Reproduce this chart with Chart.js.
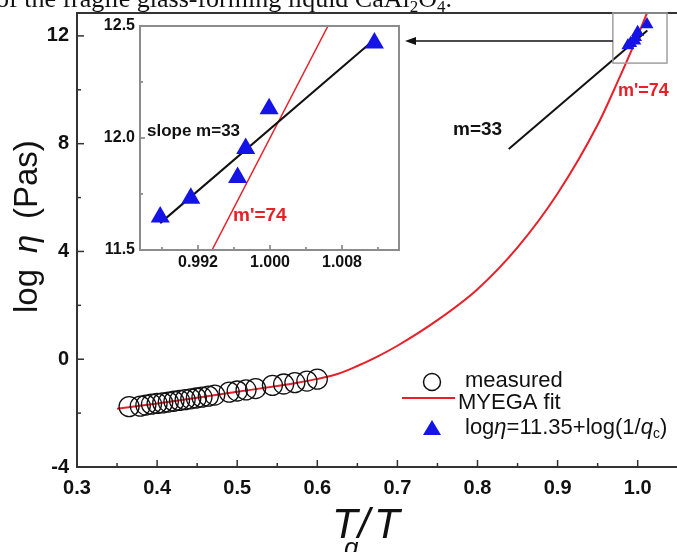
<!DOCTYPE html>
<html lang="en">
<head>
  <meta charset="utf-8">
  <title>log viscosity vs Tg/T</title>
  <script type="text/javascript" src="https://cdn.jsdelivr.net/npm/chart.js"></script>
  <style type="text/css">
    html, body { margin:0; padding:0; background:#fff; overflow:hidden; }
    #wrap { position:relative; width:677px; height:552px; overflow:hidden; }
    #chart { position:absolute; left:0; top:0; }
    #inset { position:absolute; left:95px; top:15px; }
  </style>
</head>
<body>
  <div id="wrap">
    <canvas id="chart" width="690" height="552"></canvas>
    <canvas id="inset" width="315" height="270"></canvas>
  </div>

  <script type="text/javascript">
    // measured viscosity (circles)
    const measuredX = [0.365, 0.379, 0.386, 0.393, 0.400, 0.407, 0.414, 0.421, 0.428, 0.435, 0.442, 0.449,
                       0.456, 0.464, 0.472, 0.490, 0.500, 0.511, 0.523, 0.544, 0.558, 0.572, 0.587, 0.600];
    const measuredY = [-1.76, -1.74, -1.70, -1.67, -1.64, -1.62, -1.59, -1.56, -1.53, -1.50, -1.47, -1.44,
                       -1.41, -1.37, -1.33, -1.22, -1.18, -1.14, -1.09, -0.97, -0.92, -0.87, -0.81, -0.74];
    // MYEGA fit (red curve)
    const fitX = [0.35, 0.40, 0.45, 0.50, 0.55, 0.575, 0.60, 0.625, 0.65, 0.675, 0.70, 0.75, 0.80, 0.85, 0.90, 0.95, 0.975, 1.00, 1.015];
    const fitY = [-1.84, -1.64, -1.43, -1.21, -0.99, -0.87, -0.73, -0.55, -0.25, 0.10, 0.50, 1.45, 2.60, 4.15, 6.15, 8.70, 10.30, 12.00, 13.10];
    // log eta = 11.35 + log(1/qc) (triangles)
    const qcX = [0.9878, 0.9912, 0.9964, 0.9973, 0.9999, 1.0116];
    const qcY = [11.647, 11.731, 11.824, 11.953, 12.131, 12.424];
    // slope lines
    const slopeX = [0.839, 1.012];
    const slopeY = [7.80, 12.20];
    const insetSlopeX = [0.9878, 1.0116];
    const insetSlopeY = [11.62, 12.44];
    const insetFitX = [0.99356, 1.00644];
    const insetFitY = [11.5, 12.5];
    // ticks
    const xTicks = [0.3, 0.4, 0.5, 0.6, 0.7, 0.8, 0.9, 1.0];
    const xMinor = [0.35, 0.45, 0.55, 0.65, 0.75, 0.85, 0.95];
    const yTicks = [-4, 0, 4, 8, 12];
    const yMinor = [-2, 2, 6, 10];
    const insetXTicks = [0.992, 1.000, 1.008];
    const insetXMinor = [0.988, 0.996, 1.004, 1.012];
    const insetYTicks = [11.5, 12.0, 12.5];
    const insetYMinor = [11.75, 12.25];

    const SANS = 'Arial, "Liberation Sans", sans-serif';
    const RED = '#e8202a', BLUE = '#1414e6', AXIS = '#333';
    const pts = (xs, ys) => xs.map((x, i) => ({ x, y: ys[i] }));
    const noPad = s => { s.paddingLeft = 0; s.paddingRight = 0; s.paddingTop = 0; s.paddingBottom = 0; };

    const inTicks = {
      id: 'inTicks',
      afterDatasetsDraw(chart, args, o) {
        const { ctx, chartArea: a, scales: { x, y } } = chart;
        ctx.save();
        ctx.strokeStyle = AXIS; ctx.lineWidth = o.w;
        const v = (px, len) => { ctx.beginPath(); ctx.moveTo(px, a.bottom); ctx.lineTo(px, a.bottom - len); ctx.stroke(); };
        const h = (py, len) => { ctx.beginPath(); ctx.moveTo(a.left, py); ctx.lineTo(a.left + len, py); ctx.stroke(); };
        o.xMajor.forEach(t => v(x.getPixelForValue(t), o.major));
        o.xMinor.forEach(t => v(x.getPixelForValue(t), o.minor));
        o.yMajor.forEach(t => h(y.getPixelForValue(t), o.major));
        o.yMinor.forEach(t => h(y.getPixelForValue(t), o.minor));
        ctx.restore();
      }
    };

    const decor = {
      id: 'decor',
      afterDraw(chart) {
        const { ctx, chartArea: a, scales: { x, y } } = chart;
        ctx.save();
        // top frame line
        ctx.strokeStyle = AXIS; ctx.lineWidth = 2;
        ctx.beginPath(); ctx.moveTo(a.left - 1, a.top); ctx.lineTo(a.right, a.top); ctx.stroke();

        // caption line cut at the top of the figure
        ctx.fillStyle = '#111'; ctx.textBaseline = 'alphabetic'; ctx.textAlign = 'left';
        let cx = -4;
        const seg = (t, font, dy) => { ctx.font = font; ctx.fillText(t, cx, 7 + (dy || 0)); cx += ctx.measureText(t).width; };
        seg('of the fragile glass-forming liquid CaAl', '26px "Liberation Serif", serif');
        seg('2', '17px "Liberation Serif", serif', 5);
        seg('O', '26px "Liberation Serif", serif');
        seg('4', '17px "Liberation Serif", serif', 5);
        seg('.', '26px "Liberation Serif", serif');

        // zoom box and arrow
        const bx0 = x.getPixelForValue(0.969), bx1 = x.getPixelForValue(1.0366);
        const by0 = y.getPixelForValue(12.85), by1 = y.getPixelForValue(10.99);
        ctx.strokeStyle = '#a0a0a0'; ctx.lineWidth = 1.5;
        ctx.strokeRect(bx0, by0, bx1 - bx0, by1 - by0);
        ctx.strokeStyle = '#111'; ctx.fillStyle = '#111'; ctx.lineWidth = 1.5;
        ctx.beginPath(); ctx.moveTo(bx0, 41); ctx.lineTo(414, 41); ctx.stroke();
        ctx.beginPath(); ctx.moveTo(405, 41); ctx.lineTo(416, 37); ctx.lineTo(416, 45); ctx.closePath(); ctx.fill();

        // slope annotations
        ctx.textBaseline = 'middle';
        ctx.font = 'bold 19px ' + SANS; ctx.fillStyle = '#111';
        ctx.fillText('m=33', 453, 130);
        ctx.font = 'bold 18px ' + SANS; ctx.fillStyle = RED;
        ctx.fillText("m'=74", 618, 91);

        // axis titles
        ctx.fillStyle = '#111';
        ctx.save();
        ctx.translate(28, 313); ctx.rotate(-Math.PI / 2);
        ctx.textBaseline = 'middle';
        ctx.font = '33px ' + SANS; ctx.fillText('log', 0, 0);
        ctx.font = 'italic 33px ' + SANS; ctx.fillText('\u03B7', 60, 0);
        ctx.font = '33px ' + SANS; ctx.fillText('(Pas)', 94, 0);
        ctx.restore();
        ctx.textBaseline = 'alphabetic';
        ctx.font = 'italic 42px ' + SANS; ctx.fillText('T', 332, 538);
        ctx.font = 'italic 26px ' + SANS; ctx.fillText('g', 344, 556);
        ctx.font = 'italic 42px ' + SANS; ctx.fillText('/', 358, 538); ctx.fillText('T', 374, 538);

        // legend
        ctx.strokeStyle = '#111'; ctx.lineWidth = 1.5;
        ctx.beginPath(); ctx.arc(432, 382, 8.5, 0, Math.PI * 2); ctx.stroke();
        ctx.strokeStyle = RED; ctx.lineWidth = 2;
        ctx.beginPath(); ctx.moveTo(402, 398); ctx.lineTo(455, 398); ctx.stroke();
        ctx.fillStyle = BLUE;
        ctx.beginPath(); ctx.moveTo(432, 420); ctx.lineTo(441, 435); ctx.lineTo(423, 435); ctx.closePath(); ctx.fill();
        ctx.fillStyle = '#111'; ctx.textBaseline = 'middle';
        ctx.font = '22px ' + SANS;
        ctx.fillText('measured', 465, 381);
        ctx.fillText('MYEGA fit', 458, 403);
        let lx = 465;
        const lseg = (t, font, dy) => { ctx.font = font; ctx.fillText(t, lx, 428 + (dy || 0)); lx += ctx.measureText(t).width; };
        lseg('log', '22px ' + SANS);
        lseg('\u03B7', 'italic 22px ' + SANS);
        lseg('=11.35+log(1/', '22px ' + SANS);
        lseg('q', 'italic 22px ' + SANS);
        lseg('c', '14px ' + SANS, 6);
        lseg(')', '22px ' + SANS);
        ctx.restore();
      }
    };

    const main = new Chart(document.getElementById('chart'), {
      type: 'scatter',
      data: {
        datasets: [
          { label: 'qc', data: pts(qcX, qcY), pointStyle: 'triangle', pointRadius: 7.5,
            backgroundColor: BLUE, borderColor: BLUE, borderWidth: 0 },
          { label: 'slope', data: pts(slopeX, slopeY), showLine: true, pointRadius: 0,
            borderColor: '#111', borderWidth: 2 },
          { label: 'measured', data: pts(measuredX, measuredY), pointStyle: 'circle', pointRadius: 10,
            backgroundColor: 'rgba(0,0,0,0)', borderColor: '#111', borderWidth: 1.3 },
          { label: 'MYEGA fit', data: pts(fitX, fitY), showLine: true, pointRadius: 0,
            borderColor: RED, borderWidth: 2, cubicInterpolationMode: 'monotone' }
        ]
      },
      options: {
        responsive: false,
        animation: false,
        devicePixelRatio: 1,
        layout: { padding: { top: 13, right: 0, left: 0, bottom: 0 } },
        plugins: {
          legend: { display: false },
          tooltip: { enabled: false },
          inTicks: { w: 1.5, major: 7, minor: 4, xMajor: xTicks, xMinor: xMinor, yMajor: yTicks, yMinor: yMinor }
        },
        scales: {
          x: {
            type: 'linear', min: 0.3, max: 1.065,
            afterBuildTicks: s => { s.ticks = xTicks.map(v => ({ value: v })); },
            afterFit: s => { s.height = 85; noPad(s); },
            grid: { display: false, drawTicks: false },
            border: { color: AXIS, width: 2 },
            ticks: { padding: 9, color: '#111', font: { family: SANS, size: 20, weight: 'bold' },
                     callback: v => v.toFixed(1) }
          },
          y: {
            type: 'linear', min: -4, max: 12.85,
            afterBuildTicks: s => { s.ticks = yTicks.map(v => ({ value: v })); },
            afterFit: s => { s.width = 77; noPad(s); },
            grid: { display: false, drawTicks: false },
            border: { color: AXIS, width: 2 },
            ticks: { padding: 8, color: '#111', font: { family: SANS, size: 20, weight: 'bold' },
                     callback: v => String(v) }
          }
        }
      },
      plugins: [inTicks, decor]
    });
    // keep 0.1 of Tg/T at about 80 px, whatever width the plot area ends up with
    main.options.scales.x.max = 0.3 + (main.chartArea.right - main.chartArea.left) / 801;
    main.update();

    const insetDecor = {
      id: 'insetDecor',
      beforeDatasetsDraw(chart) {
        const { ctx, chartArea: a } = chart;
        ctx.save(); ctx.fillStyle = '#fff';
        ctx.fillRect(a.left, a.top, a.right - a.left, a.bottom - a.top);
        ctx.restore();
      },
      afterDraw(chart) {
        const { ctx, chartArea: a } = chart;
        ctx.save();
        ctx.strokeStyle = '#8c8c8c'; ctx.lineWidth = 2;
        ctx.strokeRect(a.left, a.top, a.right - a.left, a.bottom - a.top);
        ctx.textBaseline = 'middle'; ctx.textAlign = 'left';
        ctx.font = 'bold 17px ' + SANS; ctx.fillStyle = '#111';
        ctx.fillText('slope m=33', 52, 116);
        ctx.font = 'bold 19px ' + SANS; ctx.fillStyle = RED;
        ctx.fillText("m'=74", 138, 201);
        ctx.restore();
      }
    };

    const inset = new Chart(document.getElementById('inset'), {
      type: 'scatter',
      data: {
        datasets: [
          { label: 'qc', data: pts(qcX, qcY), pointStyle: 'triangle', pointRadius: 11,
            backgroundColor: BLUE, borderColor: BLUE, borderWidth: 0 },
          { label: 'slope', data: pts(insetSlopeX, insetSlopeY), showLine: true, pointRadius: 0,
            borderColor: '#111', borderWidth: 2 },
          { label: 'fit', data: pts(insetFitX, insetFitY), showLine: true, pointRadius: 0,
            borderColor: RED, borderWidth: 1.5 }
        ]
      },
      options: {
        responsive: false,
        animation: false,
        devicePixelRatio: 1,
        layout: { padding: { top: 10, right: 8, left: 0, bottom: 0 } },
        plugins: {
          legend: { display: false },
          tooltip: { enabled: false },
          inTicks: { w: 1, major: 5, minor: 3, xMajor: insetXTicks, xMinor: insetXMinor, yMajor: insetYTicks, yMinor: insetYMinor }
        },
        scales: {
          x: {
            type: 'linear', min: 0.9856, max: 1.0147,
            afterBuildTicks: s => { s.ticks = insetXTicks.map(v => ({ value: v })); },
            afterFit: s => { s.height = 35; noPad(s); },
            grid: { display: false, drawTicks: false },
            border: { display: false },
            ticks: { padding: 3, color: '#111', font: { family: SANS, size: 16, weight: 'bold' },
                     callback: v => v.toFixed(3) }
          },
          y: {
            type: 'linear', min: 11.5, max: 12.5,
            afterBuildTicks: s => { s.ticks = insetYTicks.map(v => ({ value: v })); },
            afterFit: s => { s.width = 45; noPad(s); },
            grid: { display: false, drawTicks: false },
            border: { display: false },
            ticks: { padding: 5, color: '#111', font: { family: SANS, size: 16, weight: 'bold' },
                     callback: v => v.toFixed(1) }
          }
        }
      },
      plugins: [insetDecor, inTicks]
    });
    inset.options.scales.x.min = 0.992 - (198 - 95 - inset.chartArea.left) / 9000;
    inset.options.scales.x.max = inset.options.scales.x.min + (inset.chartArea.right - inset.chartArea.left) / 9000;
    inset.update();
  </script>
</body>
</html>
